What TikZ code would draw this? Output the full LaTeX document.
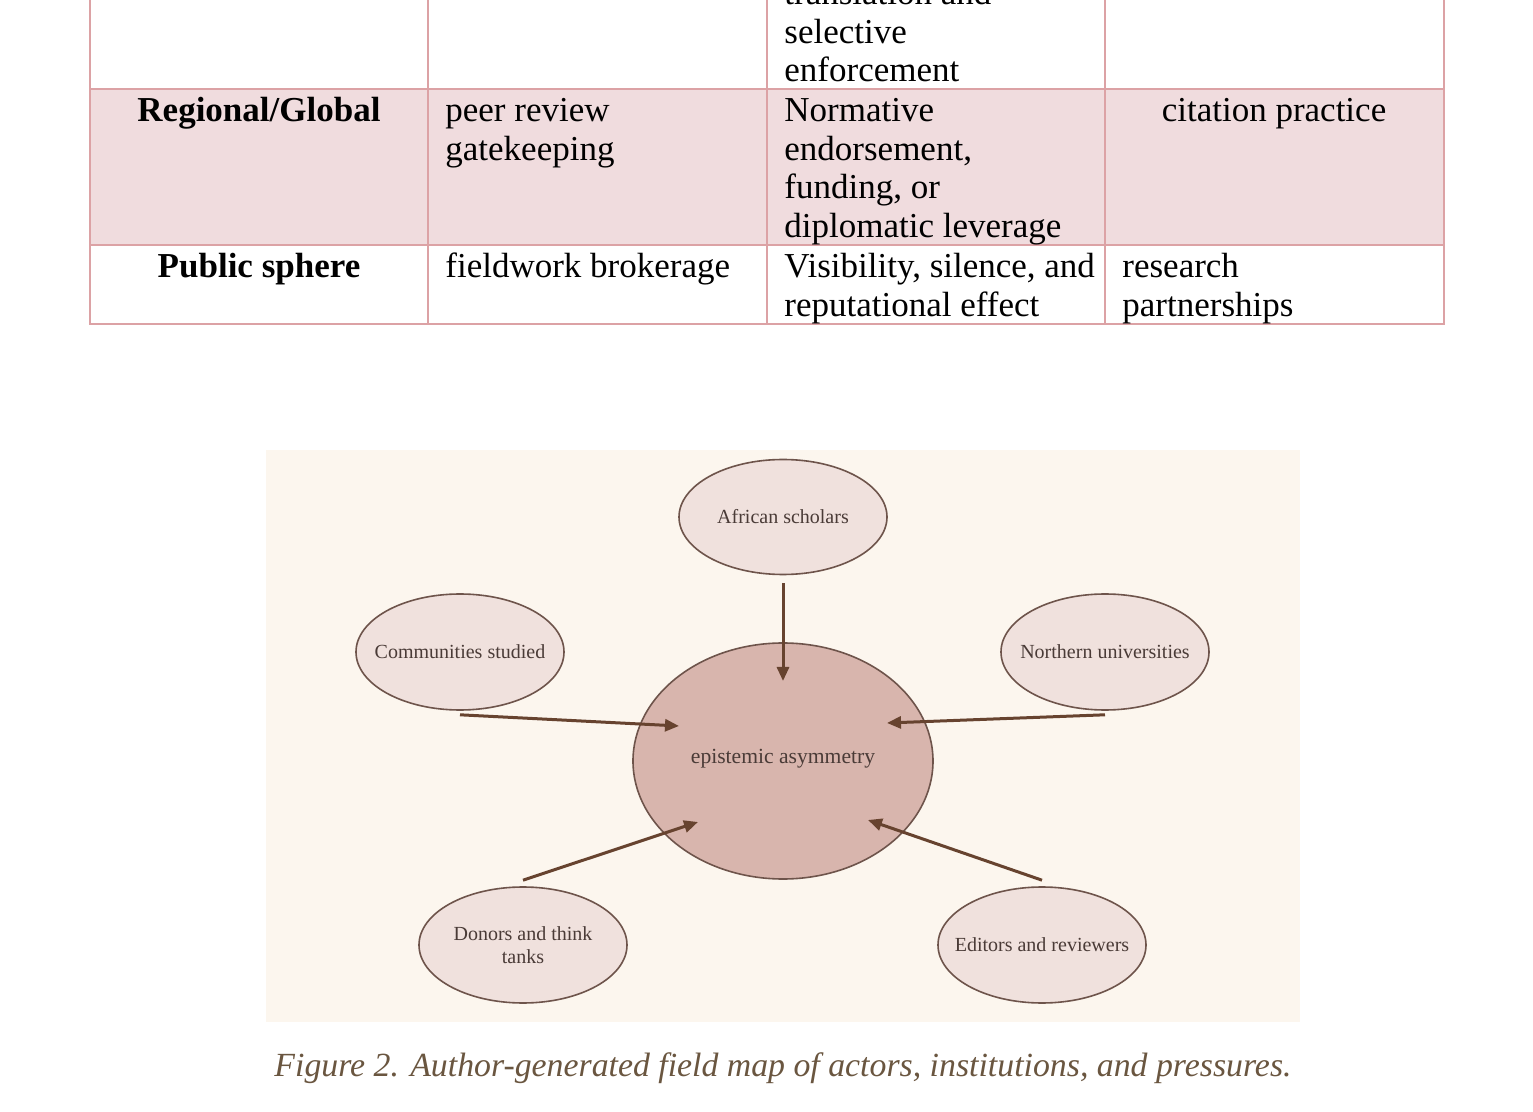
\documentclass[tikz,border=0pt]{standalone}
\usepackage{fontspec}
\setmainfont{Liberation Serif}
\usetikzlibrary{arrows.meta}
\definecolor{tblborder}{HTML}{DCA2A5}
\definecolor{tblpink}{HTML}{F0DCDE}
\definecolor{figbg}{HTML}{FCF6EE}
\definecolor{smallfill}{HTML}{F0E1DD}
\definecolor{bigfill}{HTML}{D8B5AD}
\definecolor{edgecol}{HTML}{6E544B}
\definecolor{arrcol}{HTML}{67432F}
\definecolor{figtext}{HTML}{4A3B37}
\definecolor{captcol}{HTML}{6A5640}
\tikzset{
  cellt/.style={anchor=base west, inner sep=0pt, font=\fontsize{17.5}{20}\selectfont, text=black},
  cellc/.style={anchor=base, inner sep=0pt, font=\fontsize{17.5}{20}\selectfont, text=black},
  cellb/.style={anchor=base, inner sep=0pt, font=\fontsize{17.5}{20}\selectfont\bfseries, text=black},
  actor/.style={ellipse, draw=edgecol, line width=0.8pt, fill=smallfill},
  lbl/.style={text=figtext, font=\fontsize{10}{11.5}\selectfont, align=center},
  flow/.style={draw=arrcol, line width=1.5pt, -{Triangle[length=7pt,width=6pt]}},
}
\usetikzlibrary{shapes.geometric}
\begin{document}
\begin{tikzpicture}[x=0.5pt,y=-0.5pt]
\useasboundingbox (0,0) rectangle (1533,1112);
\clip (0,0) rectangle (1533,1112);
\fill[white] (0,0) rectangle (1533,1112);
% ---- table ----
\fill[tblpink] (90,89) rectangle (1444,245);
\draw[tblborder, line width=0.9pt] (90,-20) -- (90,324) -- (1444,324) -- (1444,-20);
\draw[tblborder, line width=0.9pt] (90,89) -- (1444,89) (90,245) -- (1444,245);
\foreach \cx in {428,767,1105} \draw[tblborder, line width=0.9pt] (\cx,-20) -- (\cx,324);
% row 1 (partial, cut by the top edge as in the reference)
\node[cellt] (r1a) at (784,5) {translation and};
\node[cellt] (r1b) at (784,43.5) {selective};
\node[cellt] (r1c) at (784,82) {enforcement};
% row 2
\node[cellb] (r2h) at (259,122) {Regional/Global};
\node[cellt] (r2a) at (445,122) {peer review};
\node[cellt] (r2b) at (445,160.5) {gatekeeping};
\node[cellt] (r2c) at (784,122) {Normative};
\node[cellt] (r2d) at (784,160.5) {endorsement,};
\node[cellt] (r2e) at (784,199) {funding, or};
\node[cellt] (r2f) at (784,237.5) {diplomatic leverage};
\node[cellc] (r2g) at (1274,122) {citation practice};
% row 3
\node[cellb] (r3h) at (259,278) {Public sphere};
\node[cellt] (r3a) at (445,278) {fieldwork brokerage};
\node[cellt] (r3b) at (784,278) {Visibility, silence, and};
\node[cellt] (r3c) at (784,316.5) {reputational effect};
\node[cellt] (r3d) at (1122,278) {research};
\node[cellt] (r3e) at (1122,316.5) {partnerships};
% ---- figure ----
\fill[figbg] (266,450) rectangle (1300,1022);
\node[ellipse, draw=edgecol, line width=0.8pt, fill=bigfill, minimum width=150pt, minimum height=118pt, inner sep=0pt] (center) at (783,761) {};
\node[lbl, font=\fontsize{10.8}{12}\selectfont] (centerlbl) at (783,759) {epistemic asymmetry};
\node[actor, minimum width=104pt, minimum height=57.5pt] (afr) at (783,517) {};
\node[lbl] at (afr) {African scholars};
\node[actor, minimum width=104pt, minimum height=58pt] (comm) at (460,652) {};
\node[lbl] at (comm) {Communities studied};
\node[actor, minimum width=104pt, minimum height=58pt] (north) at (1105,652) {};
\node[lbl] at (north) {Northern universities};
\node[actor, minimum width=104pt, minimum height=58pt] (donor) at (523,945) {};
\node[lbl] at (donor) {Donors and think\\tanks};
\node[actor, minimum width=104pt, minimum height=58pt] (edit) at (1042,945) {};
\node[lbl] at (edit) {Editors and reviewers};
% arrow end points inside the central ellipse
\coordinate (tA) at (783,681);
\coordinate (tC) at (679,726);
\coordinate (tN) at (887,723);
\coordinate (tD) at (698,822);
\coordinate (tE) at (868,820);
\coordinate (sA) at ([yshift=-4]afr.south);
\coordinate (sC) at ([yshift=-2]comm.south);
\coordinate (sN) at ([yshift=-2]north.south);
\coordinate (sD) at ([yshift=3]donor.north);
\coordinate (sE) at ([yshift=3]edit.north);
\draw[flow] (sA) -- (tA);
\draw[flow] (sC) -- (tC);
\draw[flow] (sN) -- (tN);
\draw[flow] (sD) -- (tD);
\draw[flow] (sE) -- (tE);
% caption
\node[anchor=base, inner sep=0pt, text=captcol, font=\fontsize{16.9}{20}\selectfont\itshape] (cap) at (783,1076) {Figure 2. Author-generated field map of actors, institutions, and pressures.};
\end{tikzpicture}
\end{document}
